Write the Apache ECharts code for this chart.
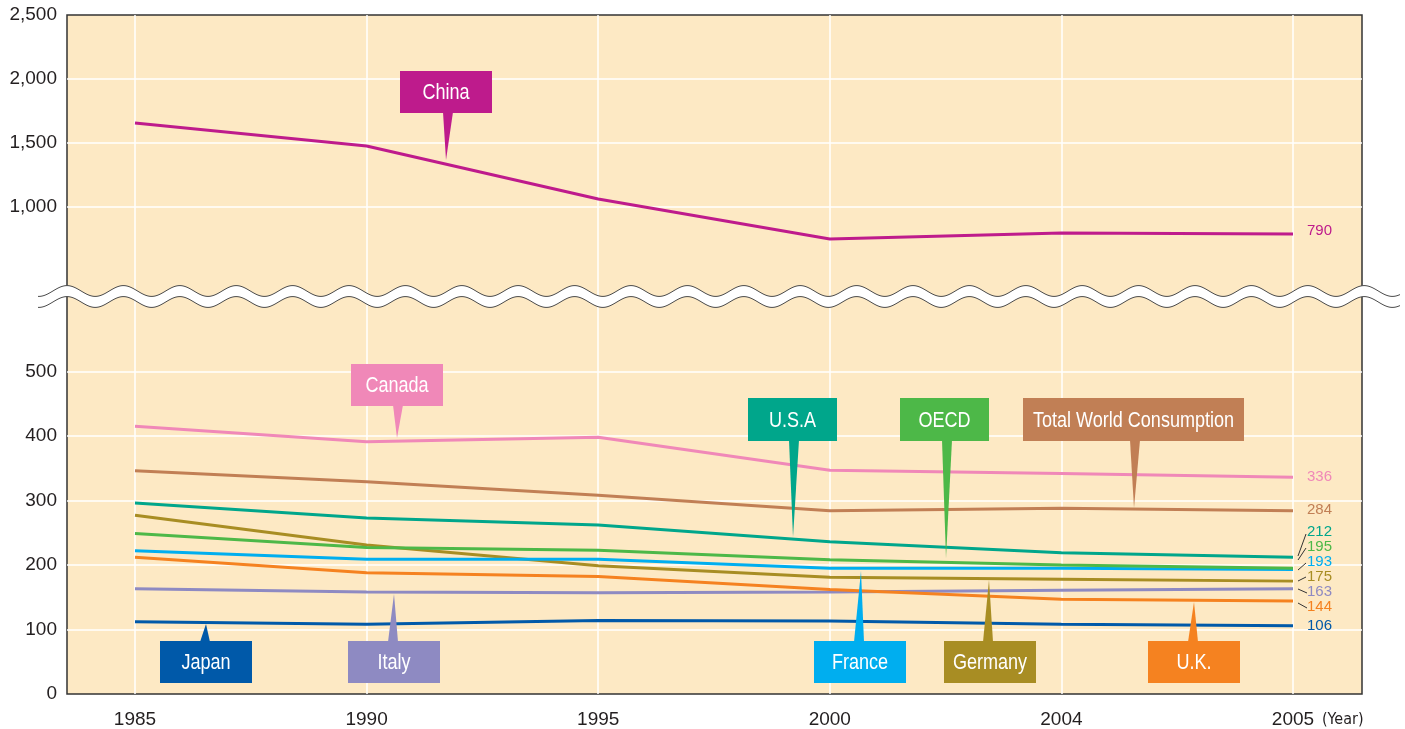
<!DOCTYPE html>
<html>
<head>
<meta charset="utf-8">
<title>Energy consumption per GDP</title>
<script src="https://cdn.jsdelivr.net/npm/echarts@6/dist/echarts.min.js"></script>
<style>
html,body{margin:0;padding:0;background:#fff;}
#main{width:1405px;height:729px;}
</style>
</head>
<body>
<div id="main"></div>
<script>
// 数据
var years   = ['1985', '1990', '1995', '2000', '2004', '2005'];
var china   = [1656, 1477, 1062, 750, 797, 790];
var canada  = [415, 391, 398, 347, 342, 336];
var world   = [346, 329, 308, 284, 288, 284];
var usa     = [296, 273, 262, 236, 219, 212];
var germany = [277, 231, 199, 181, 178, 175];
var oecd    = [249, 227, 223, 208, 200, 195];
var france  = [222, 209, 209, 195, 195, 193];
var uk      = [212, 188, 182, 162, 147, 144];
var italy   = [163, 158, 157, 158, 161, 163];
var japan   = [112, 108, 114, 113, 108, 106];
var topTicks    = [1000, 1500, 2000, 2500];
var bottomTicks = [0, 100, 200, 300, 400, 500];

var numFont = "'Liberation Sans', Arial, Helvetica, sans-serif";
var narrowFont = "'DejaVu Sans Condensed', 'Liberation Sans', sans-serif";

// 布局
var L = 67, R = 43, T = 15, B = 35;
var cL = 135, cR = 112;
var topH = 192, botTop = 371.5, botH = 322.5;

function fmt(v) {
    return String(v).replace(/\B(?=(\d{3})+(?!\d))/g, ',');
}

// 折线: [名称, 数据, 颜色, 上/下, 末端标签偏移]
var lines = [
    ['China', china, '#be1b8c', 'top', -3],
    ['Canada', canada, '#f088b8', 'bottom', 0],
    ['Total World Consumption', world, '#c17f55', 'bottom', -1],
    ['Japan', japan, '#0059a9', 'bottom', 0],
    ['Italy', italy, '#8e8ac2', 'bottom', 3],
    ['U.K.', uk, '#f58220', 'bottom', 6],
    ['Germany', germany, '#a88d23', 'bottom', -4],
    ['France', france, '#00aeef', 'bottom', -8],
    ['OECD', oecd, '#4db848', 'bottom', -21.5],
    ['U.S.A', usa, '#00a68b', 'bottom', -25.5]
];

var series = lines.map(function (s) {
    var idx = s[3] == 'top' ? 4 : 5;
    return {
        name: s[0],
        type: 'line',
        xAxisIndex: idx,
        yAxisIndex: idx,
        data: s[1],
        symbol: 'none',
        clip: false,
        lineStyle: { color: s[2], width: 3 },
        itemStyle: { color: s[2] },
        endLabel: {
            show: true,
            color: s[2],
            fontSize: 15,
            fontFamily: numFont,
            offset: [6, s[4]],
            formatter: function (p) { return p.value; }
        }
    };
});

// 标注框
var callouts = [
    { text: 'China', color: '#be1b8c', box: [400, 71, 92, 42], base: 448, tip: [446, 160] },
    { text: 'Canada', color: '#f088b8', box: [351, 364, 92, 42], base: 398, tip: [397, 438] },
    { text: 'U.S.A', color: '#00a68b', box: [748, 398, 89, 43], base: 794, tip: [793, 537] },
    { text: 'OECD', color: '#4db848', box: [900, 398, 89, 43], base: 947, tip: [946, 558] },
    { text: 'Total World Consumption', color: '#c17f55', box: [1023, 398, 221, 43], base: 1135, tip: [1134, 508] },
    { text: 'Japan', color: '#0059a9', box: [160, 641, 92, 42], base: 205, tip: [206, 624] },
    { text: 'Italy', color: '#8e8ac2', box: [348, 641, 92, 42], base: 393, tip: [394, 594] },
    { text: 'France', color: '#00aeef', box: [814, 641, 92, 42], base: 859, tip: [861, 571] },
    { text: 'Germany', color: '#a88d23', box: [944, 641, 92, 42], base: 988, tip: [989, 580] },
    { text: 'U.K.', color: '#f58220', box: [1148, 641, 92, 42], base: 1193, tip: [1194, 602] }
];

var graphics = [];
callouts.forEach(function (c) {
    var b = c.box;
    var edge = c.tip[1] > b[1] ? b[1] + b[3] - 1 : b[1] + 1;
    graphics.push({
        type: 'polygon', z: 50,
        shape: { points: [[c.base - 5, edge], [c.base + 5, edge], c.tip] },
        style: { fill: c.color }
    });
    graphics.push({
        type: 'rect', z: 51,
        shape: { x: b[0], y: b[1], width: b[2], height: b[3] },
        style: { fill: c.color }
    });
    // 窄体字: 横向压缩
    graphics.push({
        type: 'text', z: 52,
        x: b[0] + b[2] / 2, y: b[1] + b[3] / 2 + 1,
        scaleX: 0.82,
        style: {
            text: c.text, fill: '#fff', fontSize: 22, fontFamily: numFont,
            align: 'center', verticalAlign: 'middle'
        }
    });
});

// 引导线
var leaders = [
    [[1298, 556], [1306, 534]],
    [[1298, 560], [1306, 548]],
    [[1298, 570], [1306, 563]],
    [[1298, 581], [1306, 577]],
    [[1298, 589], [1307, 593]],
    [[1298, 603], [1307, 608]]
];
leaders.forEach(function (p) {
    graphics.push({
        type: 'line', z: 40,
        shape: { x1: p[0][0], y1: p[0][1], x2: p[1][0], y2: p[1][1] },
        style: { stroke: '#333', lineWidth: 1 }
    });
});

// 断轴波浪
var topWave = [], botWave = [];
for (var x = 38; x <= 1400; x++) {
    var y = 291 - 5.4 * Math.cos(2 * Math.PI * (x - 67) / 56.4);
    topWave.push([x, y]);
    botWave.push([x, y + 11]);
}
graphics.push({
    type: 'polygon', z: 90,
    shape: { points: topWave.concat(botWave.slice().reverse()) },
    style: { fill: '#fff' }
});
graphics.push({ type: 'polyline', z: 91, shape: { points: topWave }, style: { stroke: '#4a4a4a', lineWidth: 1, fill: null } });
graphics.push({ type: 'polyline', z: 91, shape: { points: botWave }, style: { stroke: '#4a4a4a', lineWidth: 1, fill: null } });

var yLabel = { fontSize: 19, color: '#231f20', fontFamily: numFont, margin: 10, formatter: fmt };
var whiteLine = { color: '#fff', width: 1.5 };

var myChart = echarts.init(document.getElementById('main'));
myChart.setOption({
    animation: false,
    grid: [
        { left: L, right: R, top: T, bottom: B, show: true, backgroundColor: '#fde9c4', borderColor: '#333', borderWidth: 1.5 },
        { left: cL, right: cR, top: T, bottom: B },
        { left: L, right: R, top: T, height: topH },
        { left: L, right: R, top: botTop, height: botH },
        { left: cL, right: cR, top: T, height: topH },
        { left: cL, right: cR, top: botTop, height: botH }
    ],
    xAxis: [
        { gridIndex: 0, type: 'value', show: false },
        {
            gridIndex: 1, type: 'category', data: years, boundaryGap: false,
            axisLine: { show: false }, axisTick: { show: false },
            axisLabel: { interval: 0, margin: 16, fontSize: 19, color: '#231f20', fontFamily: numFont },
            splitLine: { show: true, interval: 0, lineStyle: whiteLine },
            name: '(Year)', nameLocation: 'end', nameGap: 29,
            nameTextStyle: { fontSize: 16, color: '#231f20', fontFamily: narrowFont, align: 'left', verticalAlign: 'top', padding: [18, 0, 0, 0] }
        },
        { gridIndex: 2, type: 'value', show: false },
        { gridIndex: 3, type: 'value', show: false },
        { gridIndex: 4, type: 'category', data: years, boundaryGap: false, show: false },
        { gridIndex: 5, type: 'category', data: years, boundaryGap: false, show: false }
    ],
    yAxis: [
        { gridIndex: 0, type: 'value', show: false },
        { gridIndex: 1, type: 'value', show: false },
        {
            gridIndex: 2, type: 'value',
            min: topTicks[0], max: topTicks[topTicks.length - 1], interval: topTicks[1] - topTicks[0],
            axisLine: { show: false }, axisTick: { show: false }, axisLabel: yLabel,
            splitLine: { lineStyle: whiteLine, showMaxLine: false }
        },
        {
            gridIndex: 3, type: 'value',
            min: bottomTicks[0], max: bottomTicks[bottomTicks.length - 1], interval: bottomTicks[1] - bottomTicks[0],
            axisLine: { show: false }, axisTick: { show: false }, axisLabel: yLabel,
            splitLine: { lineStyle: whiteLine, showMinLine: false }
        },
        { gridIndex: 4, type: 'value', min: topTicks[0], max: topTicks[topTicks.length - 1], show: false },
        { gridIndex: 5, type: 'value', min: bottomTicks[0], max: bottomTicks[bottomTicks.length - 1], show: false }
    ],
    series: series,
    graphic: graphics
});
</script>
</body>
</html>
